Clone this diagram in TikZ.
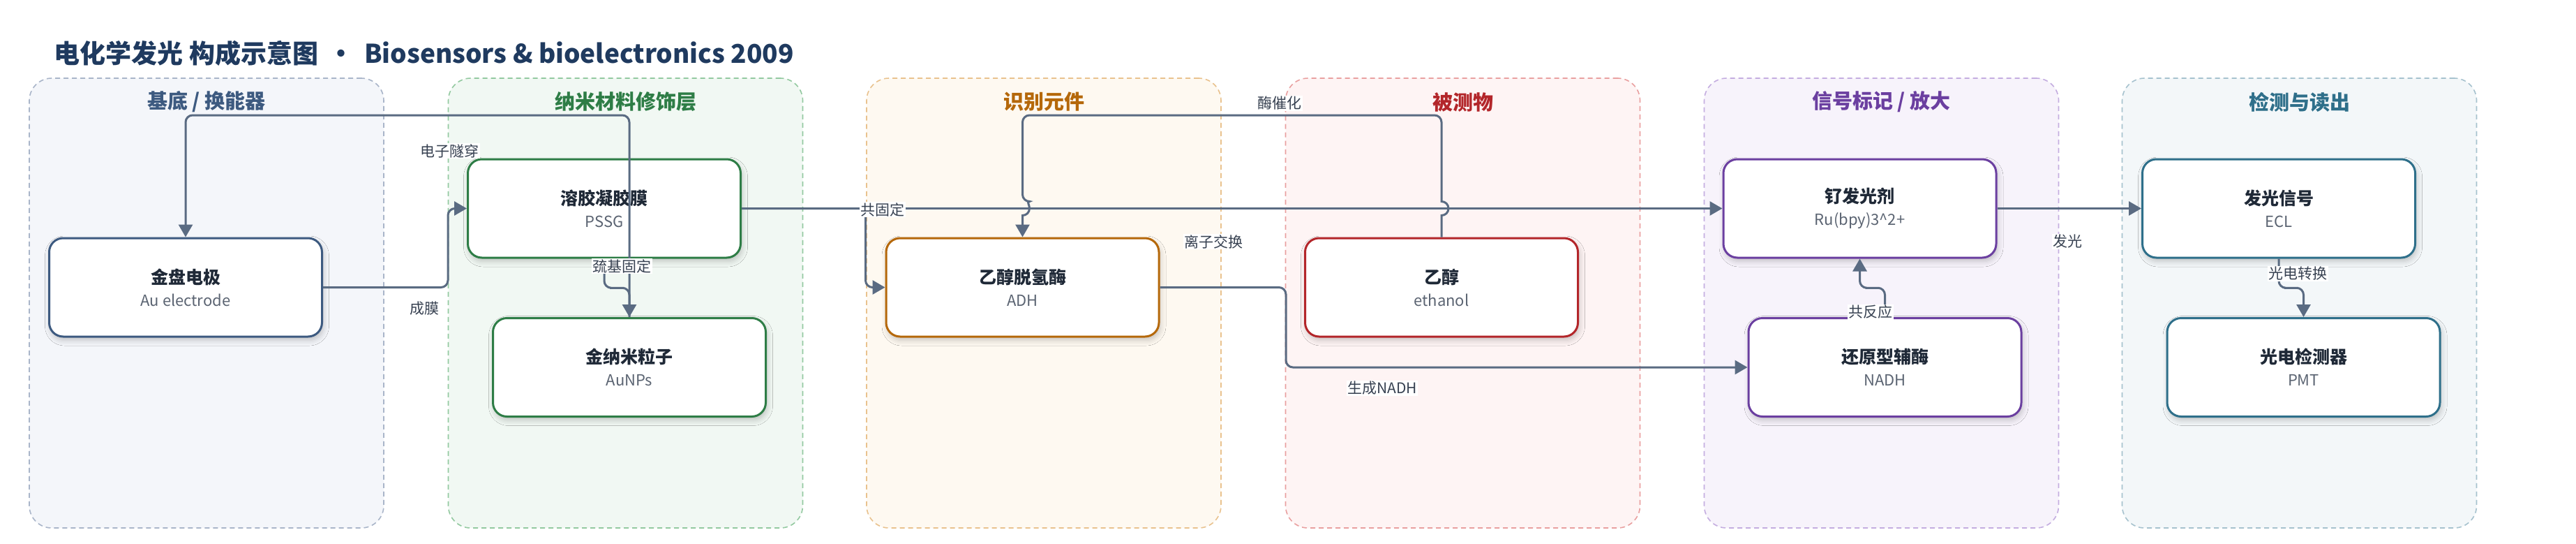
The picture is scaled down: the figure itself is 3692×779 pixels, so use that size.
\documentclass[tikz,border=0pt]{standalone}
\usepackage{fontspec}
\setmainfont{Noto Sans CJK SC}
\usetikzlibrary{shadows.blur,calc,arrows.meta}
\definecolor{ink}{HTML}{1F2937}
\definecolor{subc}{HTML}{5B6472}
\definecolor{ec}{HTML}{5A6B82}
\definecolor{lc}{HTML}{374151}
\definecolor{ttl}{HTML}{1F3A5F}
\definecolor{cA}{HTML}{3D5A80}\definecolor{bA}{HTML}{A9B5C9}\definecolor{fA}{HTML}{F4F6FA}
\definecolor{cB}{HTML}{2E7D46}\definecolor{bB}{HTML}{93C9A0}\definecolor{fB}{HTML}{F1F8F3}
\definecolor{cC}{HTML}{B5680A}\definecolor{bC}{HTML}{E9C28E}\definecolor{fC}{HTML}{FEF9F1}
\definecolor{cD}{HTML}{B3262A}\definecolor{bD}{HTML}{E9A0A0}\definecolor{fD}{HTML}{FEF4F4}
\definecolor{cE}{HTML}{6B3FA0}\definecolor{bE}{HTML}{C4ADE0}\definecolor{fE}{HTML}{F7F3FB}
\definecolor{cF}{HTML}{2E6F8A}\definecolor{bF}{HTML}{A6C2CE}\definecolor{fF}{HTML}{F3F7F9}
\newcommand\nt[2]{{\fontsize{25}{30}\selectfont\bfseries\color{ink}#1}\\{\color{subc}#2}}
\begin{document}
\begin{tikzpicture}[x=1pt,y=-1pt,
  grp/.style 2 args={draw=#1, fill=#2, dash pattern=on 7pt off 5pt, line width=1.6pt,
    rounded corners=32pt, minimum width=508pt, minimum height=644pt, inner sep=0pt},
  gtitle/.style={font=\fontsize{29}{34}\selectfont\bfseries, text=#1},
  box/.style={draw=#1, fill=white, line width=3pt, rounded corners=20pt,
    minimum width=391pt, minimum height=141pt, align=center, inner sep=0pt,
    font=\fontsize{22}{32}\selectfont,
    blur shadow={shadow xshift=2pt, shadow yshift=-5pt, shadow blur radius=8pt, shadow opacity=22}},
  edge/.style={draw=ec, line width=3pt, rounded corners=10pt,
    -{Triangle[length=18pt,width=20pt]}},
  lbl/.style={fill=white, inner sep=1.5pt, text=lc, font=\fontsize{21}{24}\selectfont}]
\useasboundingbox (0,0) rectangle (3692,779);
\fill[white] (0,0) rectangle (3692,779);
% title
\node[anchor=west, text=ttl, font=\fontsize{37}{44}\selectfont\bfseries] (title) at (74,76)
  {电化学发光 构成示意图 \,•\, Biosensors \& bioelectronics 2009};
% groups
\node[grp={bA}{fA}] (g1) at (296,434) {};
\node[grp={bB}{fB}] (g2) at (896.5,434) {};
\node[grp={bC}{fC}] (g3) at (1496,434) {};
\node[grp={bD}{fD}] (g4) at (2096.5,434) {};
\node[grp={bE}{fE}] (g5) at (2696.5,434) {};
\node[grp={bF}{fF}] (g6) at (3295.5,434) {};
\node[gtitle=cA] (g1t) at (296,146) {基底 / 换能器};
\node[gtitle=cB] (g2t) at (896.5,146) {纳米材料修饰层};
\node[gtitle=cC] (g3t) at (1496,146) {识别元件};
\node[gtitle=cD] (g4t) at (2096.5,146) {被测物};
\node[gtitle=cE] (g5t) at (2696.5,146) {信号标记 / 放大};
\node[gtitle=cF] (g6t) at (3295.5,146) {检测与读出};
% nodes
\node[box=cA] (au) at (266,411.5) {\nt{金盘电极}{Au electrode}};
\node[box=cB] (sol) at (866,298.5) {\nt{溶胶凝胶膜}{PSSG}};
\node[box=cB] (np) at (902,526) {\nt{金纳米粒子}{AuNPs}};
\node[box=cC] (adh) at (1465.5,411.5) {\nt{乙醇脱氢酶}{ADH}};
\node[box=cD] (eth) at (2066,411.5) {\nt{乙醇}{ethanol}};
\node[box=cE] (ru) at (2665.5,298.5) {\nt{钌发光剂}{Ru(bpy)3\textasciicircum 2+}};
\node[box=cE] (nadh) at (2701.5,526) {\nt{还原型辅酶}{NADH}};
\node[box=cF] (ecl) at (3266,298.5) {\nt{发光信号}{ECL}};
\node[box=cF] (pmt) at (3301.5,526) {\nt{光电检测器}{PMT}};
% helper coordinates
\coordinate (top1) at (0,165);
\coordinate (k7) at (1843,0);
% edges
\draw[edge] (au.east) -| ($(sol.west)+(-27,0)$) -- (sol.west);
\draw[edge] (np.north) -- (np.north |- top1) -| (au.north);
\draw[edge] (sol.south) |- ($(sol.south)!0.5!(np.north)$) -| (np.north);
\draw[edge] (sol.east) -| ($(adh.west)+(-28,0)$) -- (adh.west);
\draw[edge] (sol.east) -- (ru.west);
\draw[edge, sharp corners] (eth.north) -- ($(eth.north |- sol.east)+(0,10)$) arc(90:-90:10)
  [rounded corners=10pt] -- (eth.north |- top1) -- (adh.north |- top1)
  -- ($(adh.north |- sol.east)+(0,-10)$) [sharp corners] arc(-90:90:10) -- (adh.north);
\draw[edge] (adh.east) -| (k7 |- nadh.west) -- (nadh.west);
\draw[edge] (ru.east) -- (ecl.west);
\draw[edge] (nadh.north) |- ($(nadh.north)!0.5!(ru.south)$) -| (ru.south);
\draw[edge] (ecl.south) |- ($(ecl.south)!0.5!(pmt.north)$) -| (pmt.north);
% labels
\node[lbl] (l1) at (608,442) {成膜};
\node[lbl] (l2) at (644,216) {电子隧穿};
\node[lbl] (l3) at (891,381) {巯基固定};
\node[lbl] (l4) at (1265,300) {共固定};
\node[lbl] (l5) at (1739,346) {离子交换};
\node[lbl] (l6) at (1834,148) {酶催化};
\node[lbl] (l7) at (1981,556) {生成NADH};
\node[lbl] (l8) at (2963,346) {发光};
\node[lbl] (l9) at (2681,447) {共反应};
\node[lbl] (l10) at (3293,392) {光电转换};
\end{tikzpicture}
\end{document}
